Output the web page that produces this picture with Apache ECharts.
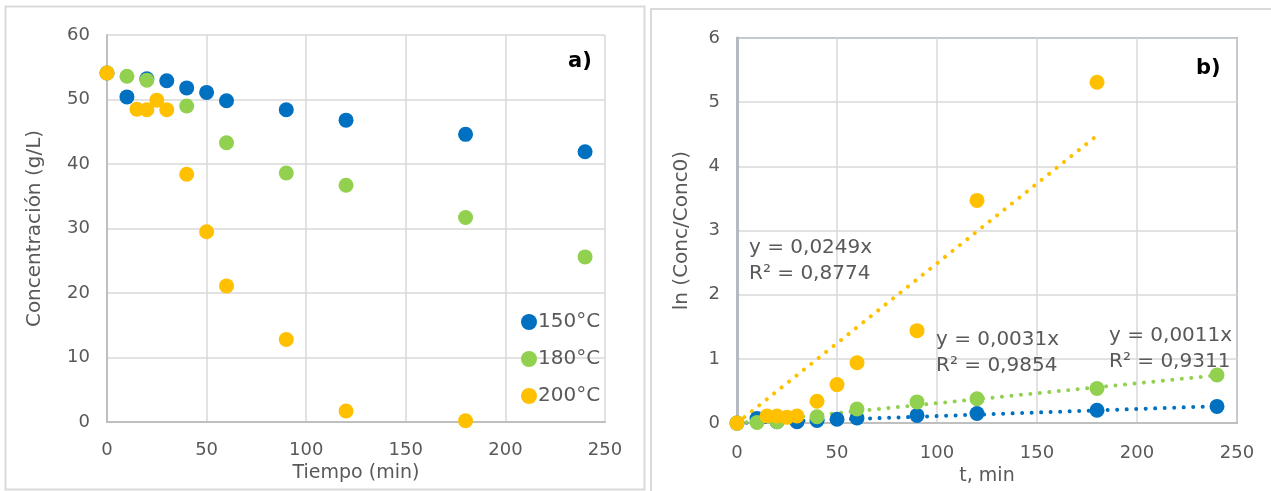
<!DOCTYPE html>
<html>
<head>
<meta charset="utf-8">
<script src="https://cdn.jsdelivr.net/npm/echarts@6/dist/echarts.min.js"></script>
<style>
    html, body {margin: 0; padding: 0; background: #fff;}
    #main {width: 1271px; height: 491px;}
</style>
</head>
<body>
<div id="main"></div>
<script>
// 数据 a) 浓度 (g/L)
const t150 = [0, 10, 20, 30, 40, 50, 60, 90, 120, 180, 240];
const c150 = [54.1, 50.4, 53.2, 52.9, 51.8, 51.1, 49.8, 48.4, 46.8, 44.6, 41.9];
const t180 = [0, 10, 20, 40, 60, 90, 120, 180, 240];
const c180 = [54.1, 53.6, 53.0, 49.0, 43.3, 38.6, 36.7, 31.7, 25.6];
const t200 = [0, 15, 20, 25, 30, 40, 50, 60, 90, 120, 180];
const c200 = [54.1, 48.5, 48.4, 49.9, 48.4, 38.4, 29.5, 21.1, 12.8, 1.7, 0.2];

// 数据 b) ln (Conc/Conc0)
const ln150 = [0, 0.07, 0.02, 0.02, 0.04, 0.06, 0.08, 0.12, 0.15, 0.20, 0.26];
const ln180 = [0, 0.01, 0.02, 0.10, 0.22, 0.33, 0.38, 0.54, 0.75];
const ln200 = [0, 0.11, 0.11, 0.09, 0.11, 0.34, 0.60, 0.94, 1.44, 3.47, 5.31];

// 趋势线端点
const trend150 = [[0, 0], [240, 0.264]];
const trend180 = [[0, 0], [240, 0.744]];
const trend200 = [[0, 0], [180, 4.48]];

const names = ['150°C', '180°C', '200°C'];
const colors = ['#0070C0', '#92D050', '#FFC000'];
const eqs = [
    ['y = 0,0011x', 'R² = 0,9311'],
    ['y = 0,0031x', 'R² = 0,9854'],
    ['y = 0,0249x', 'R² = 0,8774']
];

const FONT = 'DejaVu Sans';
const GREY = '#595959';

function pairs(xs, ys) {
    return xs.map(function (x, i) { return [x, ys[i]]; });
}

function scatter(name, idx, xs, ys, color) {
    return {
        name: name,
        type: 'scatter',
        xAxisIndex: idx,
        yAxisIndex: idx,
        symbol: 'circle',
        symbolSize: 15,
        itemStyle: {color: color, opacity: 1},
        data: pairs(xs, ys),
        z: 3
    };
}

function trend(data, color) {
    return {
        type: 'line',
        xAxisIndex: 1,
        yAxisIndex: 1,
        showSymbol: false,
        symbol: 'none',
        lineStyle: {color: color, width: 4, type: [0.01, 9.5], cap: 'round'},
        data: data,
        z: 2,
        silent: true
    };
}

function xAxis(idx, name, gap, margin) {
    return {
        type: 'value', gridIndex: idx, min: 0, max: 250, interval: 50,
        name: name, nameLocation: 'middle', nameGap: gap,
        nameTextStyle: {fontFamily: FONT, fontSize: 19, color: GREY},
        axisLine: {show: true, onZero: false, lineStyle: {color: '#bfbfbf', width: 2}},
        axisTick: {show: false},
        axisLabel: {fontFamily: FONT, fontSize: 18, color: GREY, margin: margin},
        splitLine: {lineStyle: {color: '#d9d9d9', width: 1.5}}
    };
}

function yAxis(idx, name, max, interval, gap, lineColor, lineWidth) {
    return {
        type: 'value', gridIndex: idx, min: 0, max: max, interval: interval,
        name: name, nameLocation: 'middle', nameGap: gap,
        nameTextStyle: {fontFamily: FONT, fontSize: 20, color: GREY},
        axisLine: {show: true, lineStyle: {color: lineColor, width: lineWidth}},
        axisTick: {show: false},
        axisLabel: {fontFamily: FONT, fontSize: 18, color: GREY, margin: 17},
        splitLine: {lineStyle: {color: '#d9d9d9', width: 1.5}}
    };
}

// 方程文字
function eqText(lines, left, top) {
    return {
        type: 'text', left: left, top: top, z: 10,
        style: {text: lines.join('\n'), font: '20px "' + FONT + '"', fill: GREY, lineHeight: 26}
    };
}

const myChart = echarts.init(document.getElementById('main'));
myChart.setOption({
    animation: false,
    backgroundColor: '#fff',
    grid: [
        {left: 107, top: 35, width: 498, height: 387},
        {left: 737, top: 38, width: 500, height: 386, show: true,
            borderColor: '#5b7ea1', borderWidth: 1.5, backgroundColor: 'transparent'}
    ],
    xAxis: [xAxis(0, 'Tiempo (min)', 41, 19), xAxis(1, 't, min', 36, 21)],
    yAxis: [
        yAxis(0, 'Concentración (g/L)', 60, 10, 62, '#bfbfbf', 2),
        yAxis(1, 'ln (Conc/Conc0)', 6, 1, 45, '#b4bac0', 3)
    ],
    legend: {
        data: names,
        orient: 'vertical',
        left: 516,
        top: 307,
        icon: 'circle',
        itemWidth: 16,
        itemHeight: 16,
        itemGap: 17,
        textStyle: {fontFamily: FONT, fontSize: 20, color: GREY, padding: [0, 0, 0, -4]}
    },
    graphic: [
        // 外框
        {type: 'rect', shape: {x: 5.5, y: 6.5, width: 639, height: 483},
            style: {fill: 'none', stroke: '#d9d9d9', lineWidth: 2}, z: -1},
        {type: 'rect', shape: {x: 651, y: 9, width: 640, height: 500},
            style: {fill: 'none', stroke: '#d9d9d9', lineWidth: 2}, z: -1},
        {type: 'text', left: 568, top: 51, z: 10,
            style: {text: 'a)', font: 'bold 21px "' + FONT + '"', fill: '#000'}},
        {type: 'text', left: 1196, top: 58, z: 10,
            style: {text: 'b)', font: 'bold 21px "' + FONT + '"', fill: '#000'}},
        eqText(eqs[2], 749, 235),
        eqText(eqs[1], 936, 327),
        eqText(eqs[0], 1109, 323)
    ],
    series: [
        scatter(names[0], 0, t150, c150, colors[0]),
        scatter(names[1], 0, t180, c180, colors[1]),
        scatter(names[2], 0, t200, c200, colors[2]),
        trend(trend150, colors[0]),
        trend(trend180, colors[1]),
        trend(trend200, colors[2]),
        scatter('b150', 1, t150, ln150, colors[0]),
        scatter('b180', 1, t180, ln180, colors[1]),
        scatter('b200', 1, t200, ln200, colors[2])
    ]
});
</script>
</body>
</html>
